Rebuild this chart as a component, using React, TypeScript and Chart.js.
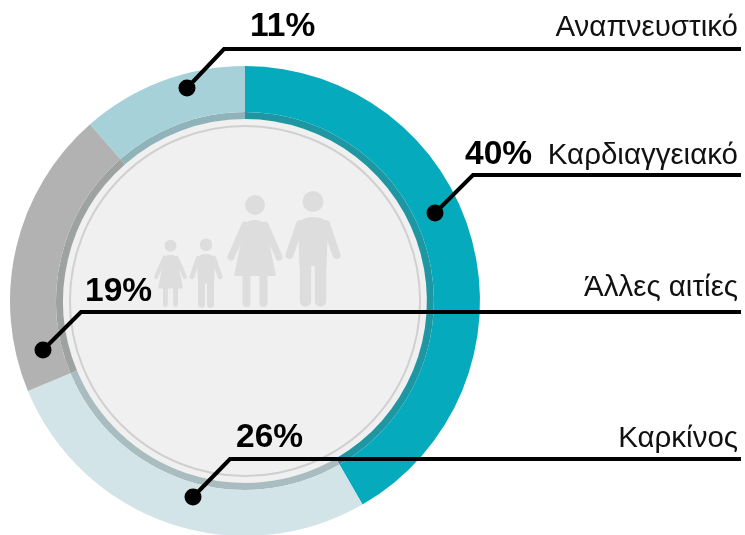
import React, { useEffect, useRef } from "react";
import { Chart, registerables } from "chart.js";

Chart.register(...registerables);

const categories = ["Καρδιαγγειακό", "Καρκίνος", "Άλλες αιτίες", "Αναπνευστικό"];
const values = [40, 26, 19, 11];
const valueLabels = ["40%", "26%", "19%", "11%"];
const ringColors = ["#05abbc", "#d2e4e8", "#b2b2b2", "#a6d1d8"];
const bandColors = ["#1f97a3", "#a9bcc0", "#9ea2a0", "#8fb3b9"];

// Leader-line annotation layout, one entry per category.
const callouts = [
  { dot: [435, 213], elbow: [473, 175], pctX: 465, pctY: 164, nameY: 164 },
  { dot: [193, 497], elbow: [230, 459], pctX: 236, pctY: 447, nameY: 447 },
  { dot: [43, 350], elbow: [81, 312], pctX: 85, pctY: 301, nameY: 296 },
  { dot: [187, 88], elbow: [224, 49], pctX: 250, pctY: 36, nameY: 36 },
];
const LINE_END = 741;
const TEXT_END = 738;

function drawPerson(
  ctx: CanvasRenderingContext2D,
  cx: number,
  foot: number,
  s: number,
  dress: boolean
) {
  const h = dress ? 112 : 116;
  ctx.save();
  ctx.translate(cx, foot - h * s);
  ctx.scale(s, s);
  ctx.fillStyle = "#dddddd";
  ctx.strokeStyle = "#dddddd";
  ctx.lineCap = "round";
  ctx.lineJoin = "round";
  const r = dress ? 10 : 10.5;
  ctx.beginPath();
  ctx.arc(0, r, r, 0, Math.PI * 2);
  ctx.fill();
  if (dress) {
    ctx.beginPath();
    ctx.moveTo(-11, 32);
    ctx.quadraticCurveTo(-9, 25, 0, 25);
    ctx.quadraticCurveTo(9, 25, 11, 32);
    ctx.lineTo(21, 81);
    ctx.lineTo(-21, 81);
    ctx.closePath();
    ctx.fill();
    ctx.lineWidth = 7;
    ctx.beginPath();
    ctx.moveTo(-10, 30);
    ctx.lineTo(-24, 62);
    ctx.moveTo(10, 30);
    ctx.lineTo(24, 62);
    ctx.stroke();
    ctx.lineWidth = 8;
    ctx.beginPath();
    ctx.moveTo(-8.5, 78);
    ctx.lineTo(-8.5, 108);
    ctx.moveTo(8.5, 78);
    ctx.lineTo(8.5, 108);
    ctx.stroke();
  } else {
    ctx.beginPath();
    ctx.moveTo(-15, 34);
    ctx.quadraticCurveTo(-12, 26, 0, 26);
    ctx.quadraticCurveTo(12, 26, 15, 34);
    ctx.lineTo(13.5, 75);
    ctx.lineTo(-13.5, 75);
    ctx.closePath();
    ctx.fill();
    ctx.lineWidth = 8;
    ctx.beginPath();
    ctx.moveTo(-13, 33);
    ctx.lineTo(-23.5, 64);
    ctx.moveTo(13, 33);
    ctx.lineTo(23.5, 64);
    ctx.stroke();
    ctx.lineWidth = 11.5;
    ctx.beginPath();
    ctx.moveTo(-7.5, 70);
    ctx.lineTo(-7.5, 110);
    ctx.moveTo(7.5, 70);
    ctx.lineTo(7.5, 110);
    ctx.stroke();
  }
  ctx.restore();
}

const overlay = {
  id: "overlay",
  beforeDatasetsDraw(chart: any) {
    const { ctx, chartArea } = chart;
    const cx = (chartArea.left + chartArea.right) / 2;
    const cy = (chartArea.top + chartArea.bottom) / 2;
    const R = (chartArea.right - chartArea.left) / 2;
    ctx.save();
    ctx.fillStyle = "#f0f0f0";
    ctx.beginPath();
    ctx.arc(cx, cy, R * 0.776, 0, Math.PI * 2);
    ctx.fill();
    ctx.strokeStyle = "#d0d0d0";
    ctx.lineWidth = 2;
    ctx.beginPath();
    ctx.arc(cx, cy, R * 0.745, 0, Math.PI * 2);
    ctx.stroke();
    drawPerson(ctx, 170.5, 307, 0.6, true);
    drawPerson(ctx, 206, 308, 0.6, false);
    drawPerson(ctx, 255, 307, 1, true);
    drawPerson(ctx, 313, 307, 1, false);
    ctx.restore();
  },
  afterDatasetsDraw(chart: any) {
    const { ctx } = chart;
    ctx.save();
    callouts.forEach((c, i) => {
      ctx.strokeStyle = "#000";
      ctx.fillStyle = "#000";
      ctx.lineWidth = 4;
      ctx.lineJoin = "miter";
      ctx.beginPath();
      ctx.moveTo(c.dot[0], c.dot[1]);
      ctx.lineTo(c.elbow[0], c.elbow[1]);
      ctx.lineTo(LINE_END, c.elbow[1]);
      ctx.stroke();
      ctx.beginPath();
      ctx.arc(c.dot[0], c.dot[1], 8.5, 0, Math.PI * 2);
      ctx.fill();
      ctx.textBaseline = "alphabetic";
      ctx.textAlign = "left";
      ctx.font = 'bold 33.5px "Liberation Sans", Arial, sans-serif';
      ctx.fillText(valueLabels[i], c.pctX, c.pctY);
      ctx.textAlign = "right";
      ctx.font = '29.5px "Liberation Sans", Arial, sans-serif';
      ctx.fillStyle = "#111";
      ctx.fillText(categories[i], TEXT_END, c.nameY);
    });
    ctx.restore();
  },
};

export default function App() {
  const ref = useRef<HTMLCanvasElement>(null);
  useEffect(() => {
    const chart = new Chart(ref.current!, {
      type: "doughnut",
      data: {
        labels: categories,
        datasets: [
          { data: values, backgroundColor: ringColors, borderWidth: 0, weight: 46 },
          { data: values, backgroundColor: bandColors, borderWidth: 0, weight: 7 },
        ],
      },
      options: {
        responsive: false,
        animation: false,
        cutout: "77.4%",
        layout: { padding: { left: 10, right: 265, top: 66, bottom: 4 } },
        plugins: { legend: { display: false }, tooltip: { enabled: false } },
        events: [],
      },
      plugins: [overlay],
    } as any);
    return () => chart.destroy();
  }, []);
  return (
    <div style={{ position: "fixed", left: 0, top: 0, width: 745, height: 535, overflow: "hidden", background: "#fff" }}>
      <canvas ref={ref} width={745} height={540} style={{ display: "block" }} />
    </div>
  );
}
